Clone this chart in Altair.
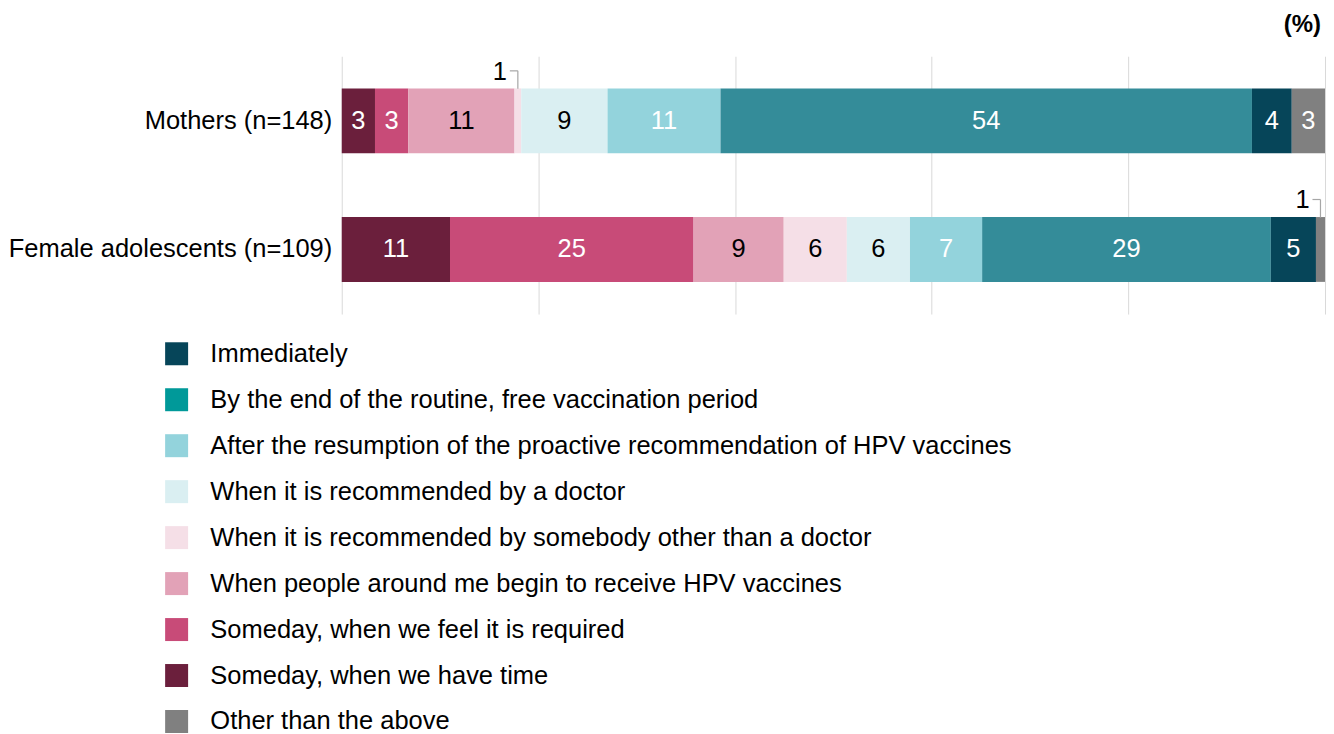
import altair as alt
import pandas as pd

FONT = "Liberation Sans, Arial, sans-serif"
FS = 25.5

groups = ["Mothers (n=148)", "Female adolescents (n=109)"]

# stacking order, left to right
categories = [
    "Someday, when we have time",
    "Someday, when we feel it is required",
    "When people around me begin to receive HPV vaccines",
    "When it is recommended by somebody other than a doctor",
    "When it is recommended by a doctor",
    "After the resumption of the proactive recommendation of HPV vaccines",
    "By the end of the routine, free vaccination period",
    "Immediately",
    "Other than the above",
]

legend_order = [
    "Immediately",
    "By the end of the routine, free vaccination period",
    "After the resumption of the proactive recommendation of HPV vaccines",
    "When it is recommended by a doctor",
    "When it is recommended by somebody other than a doctor",
    "When people around me begin to receive HPV vaccines",
    "Someday, when we feel it is required",
    "Someday, when we have time",
    "Other than the above",
]

mothers = [3.38, 3.38, 10.81, 0.68, 8.78, 11.49, 54.05, 4.05, 3.38]
adolescents = [11.01, 24.77, 9.17, 6.42, 6.42, 7.34, 29.36, 4.59, 0.92]

bar_colors = ["#6b1f3c", "#c84b78", "#e2a2b7", "#f5dfe7", "#daeff2",
              "#93d3dc", "#348c99", "#064559", "#808080"]
legend_colors = ["#064559", "#009999", "#93d3dc", "#daeff2", "#f5dfe7",
                 "#e2a2b7", "#c84b78", "#6b1f3c", "#808080"]
label_colors = ["white", "white", "black", "black", "black",
                "white", "white", "white", "white"]

rows = []
for g, vals in zip(groups, [mothers, adolescents]):
    cum = 0.0
    for c, v, tc in zip(categories, vals, label_colors):
        rows.append({
            "group": g, "cat": c, "value": v,
            "start": cum, "end": cum + v, "mid": cum + v / 2,
            "label": str(int(round(v))), "tcolor": tc,
            "small": v < 1.5,
        })
        cum += v
df = pd.DataFrame(rows)

y_enc = alt.Y("group:N", sort=groups, title=None,
              scale=alt.Scale(paddingInner=0.496, paddingOuter=0.25),
              axis=alt.Axis(labelFont=FONT, labelFontSize=FS, labelColor="black",
                            labelPadding=10, ticks=False, domain=False,
                            labelLimit=1000))

base = alt.Chart(df)

bars = base.mark_bar().encode(
    x=alt.X("start:Q", scale=alt.Scale(domain=[0, 100], nice=False), title=None,
            axis=alt.Axis(values=[0, 20, 40, 60, 80, 100], labels=False, ticks=False,
                          domain=False, grid=True, gridColor="#d9d9d9", gridWidth=1)),
    x2="end:Q",
    y=y_enc,
    color=alt.Color("cat:N", scale=alt.Scale(domain=categories, range=bar_colors),
                    legend=None),
)

labels = base.transform_filter("!datum.small").mark_text(
    font=FONT, fontSize=FS, baseline="middle", align="center"
).encode(
    x="mid:Q", y=alt.Y("group:N", sort=groups),
    text="label:N",
    color=alt.Color("tcolor:N", scale=None),
)

callout_text = base.transform_filter("datum.small").mark_text(
    font=FONT, fontSize=FS, baseline="middle", align="center", color="black",
    dx=-18, dy=-49,
).encode(x="mid:Q", y=alt.Y("group:N", sort=groups), text="label:N")

callout_v = base.transform_filter("datum.small").mark_rule(
    color="#a6a6a6", strokeWidth=1.2, yOffset=-32, y2Offset=-50
).encode(x="mid:Q", y=alt.Y("group:N", sort=groups), y2=alt.Y2("group"))

callout_h = base.transform_filter("datum.small").mark_rule(
    color="#a6a6a6", strokeWidth=1.2, x2Offset=-8, yOffset=-50
).encode(x="mid:Q", x2=alt.X2("mid"), y=alt.Y("group:N", sort=groups))

legend_layer = base.mark_square(opacity=0).encode(
    x="mid:Q", y=alt.Y("group:N", sort=groups),
    fill=alt.Fill("cat:N", scale=alt.Scale(domain=legend_order, range=legend_colors),
                  legend=alt.Legend(
                      title=None, orient="none", legendX=-178, legendY=285,
                      symbolType="square", symbolSize=529, symbolOpacity=1,
                      symbolStrokeWidth=0, labelFont=FONT, labelFontSize=FS,
                      labelColor="black", labelOffset=21, labelLimit=1000,
                      rowPadding=19, padding=0)),
)

chart = alt.layer(bars, labels, callout_v, callout_h, callout_text, legend_layer).properties(
    width=984, height=258,
    padding={"left": 0, "top": 5, "right": 0, "bottom": 0},
    title=alt.Title("(%)", anchor="end", font=FONT, fontSize=24, fontWeight="bold",
                    color="black", offset=19, dx=-4),
).configure_view(stroke=None)

chart.save("out.html", embed_options={"renderer": "svg", "actions": False})
